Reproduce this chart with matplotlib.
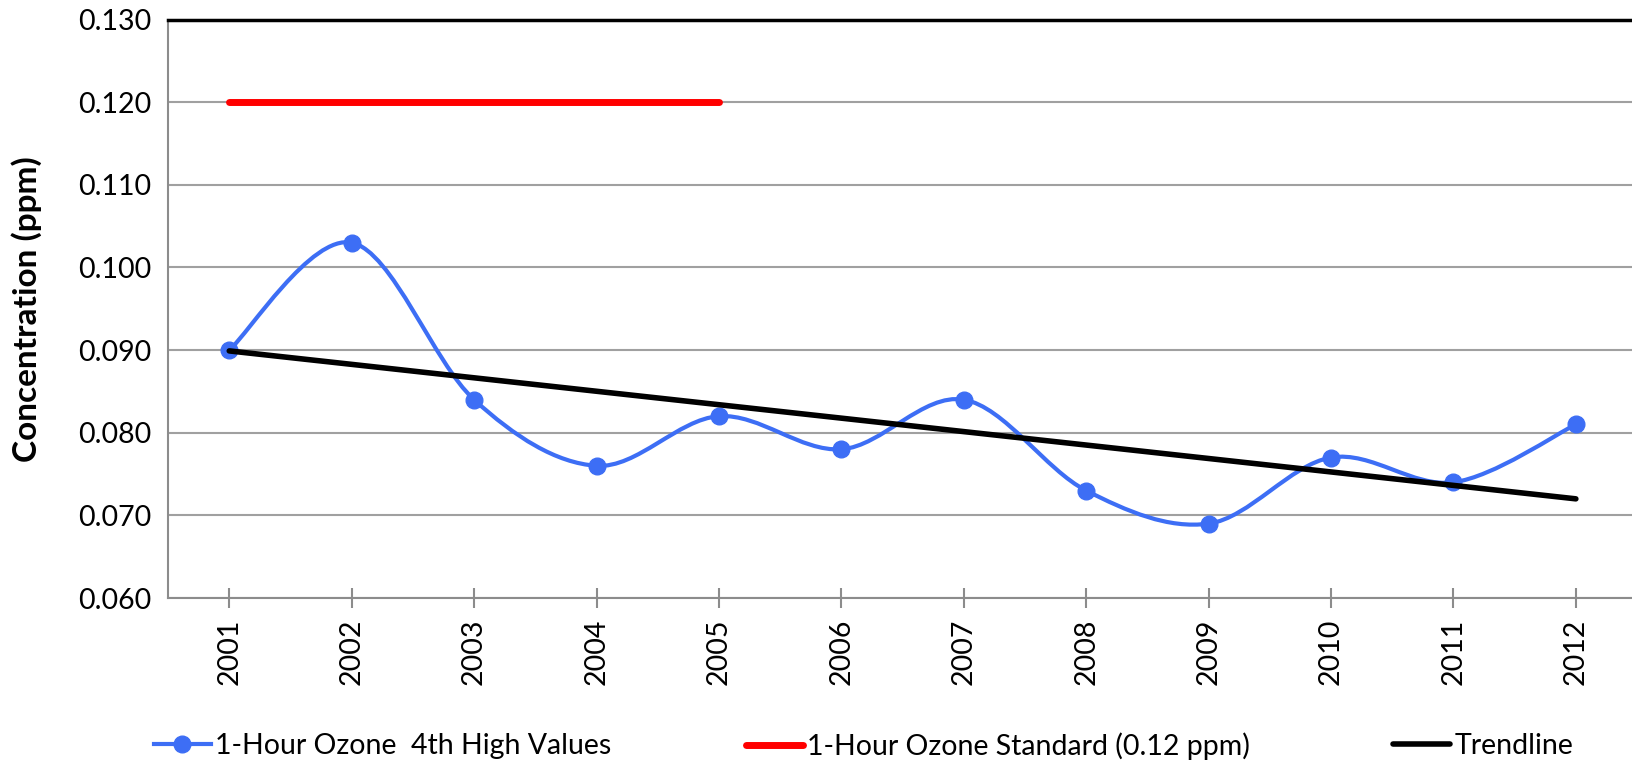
import matplotlib
matplotlib.use('Agg')
import matplotlib.pyplot as plt
from matplotlib.path import Path
from matplotlib.patches import PathPatch
from matplotlib.lines import Line2D

plt.rcParams['font.family'] = ['Lato', 'DejaVu Sans']

years = [2001, 2002, 2003, 2004, 2005, 2006, 2007, 2008, 2009, 2010, 2011, 2012]
ozone = [0.090, 0.103, 0.084, 0.076, 0.082, 0.078, 0.084, 0.073, 0.069, 0.077, 0.074, 0.081]
std_years = [2001, 2005]
std_values = [0.120, 0.120]
trend_years = [2001, 2012]
trend_values = [0.0899, 0.0720]
yticks = [0.060, 0.070, 0.080, 0.090, 0.100, 0.110, 0.120, 0.130]

blue = '#3D6EF5'
fs = 20.5

fig = plt.figure(figsize=(16.33, 7.62), dpi=100)
ax = fig.add_axes([0.1029, 0.2152, 0.8996, 0.7592])

# smoothed line like Excel (Catmull-Rom segments as cubic Bezier)
n = len(years)
verts = [(years[0], ozone[0])]
codes = [Path.MOVETO]
for i in range(n - 1):
    p0 = (years[max(i - 1, 0)], ozone[max(i - 1, 0)])
    p1 = (years[i], ozone[i])
    p2 = (years[i + 1], ozone[i + 1])
    p3 = (years[min(i + 2, n - 1)], ozone[min(i + 2, n - 1)])
    c1 = (p1[0] + (p2[0] - p0[0]) / 6, p1[1] + (p2[1] - p0[1]) / 6)
    c2 = (p2[0] - (p3[0] - p1[0]) / 6, p2[1] - (p3[1] - p1[1]) / 6)
    verts += [c1, c2, p2]
    codes += [Path.CURVE4] * 3
ax.add_patch(PathPatch(Path(verts, codes), fill=False, edgecolor=blue, lw=3, zorder=3))
ax.plot(years, ozone, 'o', color=blue, ms=12, zorder=4)

ax.plot(std_years, std_values, color='#FF0000', lw=5, solid_capstyle='round', zorder=3)
ax.plot(trend_years, trend_values, color='black', lw=4, solid_capstyle='round', zorder=5)

ax.set_xlim(2000.5, 2012.5)
ax.set_ylim(0.060, 0.130)
ax.set_yticks(yticks)
ax.set_yticklabels(['%.3f' % v for v in yticks], fontsize=fs)
ax.set_xticks(years)
ax.set_xticklabels([str(y) for y in years], rotation=90, fontsize=fs)
ax.tick_params(axis='y', length=0, pad=12)
ax.tick_params(axis='x', direction='inout', length=14, width=1.5, color='#8C8C8C', pad=8)
ax.grid(axis='y', color='#A0A0A0', lw=1.5)
ax.set_axisbelow(True)

ax.spines['top'].set_color('black')
ax.spines['top'].set_linewidth(2.5)
ax.spines['right'].set_visible(False)
for s in ['left', 'bottom']:
    ax.spines[s].set_color('#8C8C8C')
    ax.spines[s].set_linewidth(1.5)

ax.set_ylabel('Concentration (ppm)', fontsize=24, fontweight='bold')
ax.yaxis.set_label_coords(-0.0855, 0.5)

h1 = Line2D([], [], color=blue, lw=3, marker='o', ms=12)
h2 = Line2D([], [], color='#FF0000', lw=5, solid_capstyle='round')
h3 = Line2D([], [], color='black', lw=4, solid_capstyle='round')
for h, lab, x in [(h1, '1-Hour Ozone  4th High Values', 154),
                  (h2, '1-Hour Ozone Standard (0.12 ppm)', 746),
                  (h3, 'Trendline', 1393)]:
    fig.legend(handles=[h], labels=[lab], loc='center left',
               bbox_to_anchor=(x / 1633, 1 - 746 / 762), frameon=False,
               fontsize=fs, handlelength=2.0, handletextpad=0.15,
               borderpad=0, borderaxespad=0, numpoints=1)

fig.savefig('out.png', dpi=100)
